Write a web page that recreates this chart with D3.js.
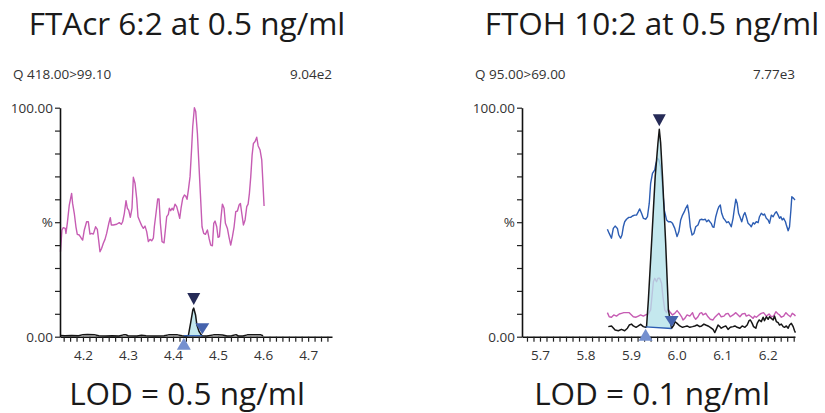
<!DOCTYPE html>
<html><head><meta charset="utf-8">
<script src="https://cdn.jsdelivr.net/npm/d3@7"></script>
<style>body{margin:0;background:#fff}svg{display:block}text{font-family:"Open Sans","Noto Sans",sans-serif}</style>
</head><body>
<script>
// ---------- Panel text ----------
const titles = ["FTAcr 6:2 at 0.5 ng/ml", "FTOH 10:2 at 0.5 ng/ml"];
const lodLabels = ["LOD = 0.5 ng/ml", "LOD = 0.1 ng/ml"];
const channelLabels = ["Q 418.00>99.10", "Q 95.00>69.00"];
const intensityLabels = ["9.04e2", "7.77e3"];
const yTickValues = [0,10,20,30,40,50,60,70,80,90,100];
const yTickLabels = {0:"0.00", 50:"%", 100:"100.00"};
const xTickLabelsA = [4.2,4.3,4.4,4.5,4.6,4.7];
const xTickLabelsB = [5.7,5.8,5.9,6.0,6.1,6.2];
const xDomainA = [4.149, 4.753];
const xDomainB = [5.6605, 6.26];

// ---------- FTAcr 6:2 traces ----------
const ftacrPinkTime = [4.150,4.1533,4.1563,4.1607,4.1622,4.1652,4.1696,4.1748,4.1770,4.1807,4.1844,4.1874,4.1918,4.1963,4.1993,4.2030,4.2081,4.2119,4.2156,4.2193,4.2230,4.2281,4.2319,4.2348,4.2378,4.2415,4.2452,4.2489,4.2526,4.2570,4.2607,4.2630,4.2674,4.2748,4.2807,4.2852,4.2881,4.2919,4.2956,4.2985,4.3015,4.3052,4.3089,4.3119,4.3156,4.3193,4.3222,4.3267,4.3304,4.3341,4.3378,4.3415,4.3452,4.3489,4.3526,4.3563,4.3585,4.3622,4.3659,4.3689,4.3719,4.3756,4.3800,4.3837,4.3859,4.3896,4.3919,4.3948,4.3978,4.4007,4.4044,4.4081,4.4111,4.4148,4.4178,4.4215,4.4252,4.4281,4.4311,4.4341,4.4378,4.4415,4.4437,4.4474,4.4504,4.4541,4.4570,4.4607,4.4644,4.4681,4.4719,4.4763,4.4800,4.4837,4.4874,4.4904,4.4933,4.4970,4.5000,4.5030,4.5067,4.5096,4.5133,4.5163,4.5207,4.5244,4.5281,4.5319,4.5356,4.5393,4.5430,4.5467,4.5496,4.5526,4.5563,4.5600,4.5637,4.5667,4.5696,4.5726,4.5756,4.5785,4.5822,4.5859,4.5889,4.5933,4.5970,4.5993,4.6022];
const ftacrPinkPct = [37.1,46.6,47.6,47.3,45.1,49.5,57.5,62.6,58.2,53.9,48.0,44.7,44.4,43.0,42.2,46.6,50.2,50.2,44.8,45.1,44.8,48.0,46.9,42.2,37.1,38.6,40.8,42.5,45.1,49.2,52.0,48.8,48.8,49.1,49.8,49.1,50.2,53.9,59.4,56.1,55.3,52.1,56.1,69.6,67.0,60.4,52.4,50.2,48.5,47.3,48.3,45.9,41.5,42.5,41.9,43.0,48.0,53.9,60.1,60.1,49.5,41.5,41.0,48.0,52.4,53.4,56.1,55.0,56.1,55.3,57.9,56.8,54.6,51.7,56.1,60.4,61.9,61.4,60.0,64.1,69.9,83.0,91.7,100.0,98.3,88.8,77.2,62.6,48.0,45.1,44.7,46.6,43.0,40.0,39.7,49.5,50.5,48.0,43.4,43.7,52.4,57.9,56.1,49.5,47.3,43.4,40.0,43.7,48.0,54.6,54.9,57.5,58.2,53.9,48.8,51.0,56.8,57.9,62.6,69.9,79.3,84.4,85.2,87.1,83.4,81.5,77.2,68.4,57.1];
const ftacrBlackTime = [4.150,4.160,4.175,4.190,4.200,4.210,4.225,4.235,4.250,4.265,4.280,4.290,4.295,4.300,4.320,4.330,4.340,4.360,4.380,4.390,4.400,4.410,4.420,4.428,4.434,4.439,4.444,4.446,4.450,4.453,4.458,4.464,4.475,4.490,4.500,4.510,4.520,4.530,4.540,4.545,4.555,4.565,4.580,4.595,4.600];
const ftacrBlackPct = [0.5,0.4,0.5,0.4,0.9,1.0,0.9,0.4,0.3,0.4,0.3,0.8,0.9,0.4,0.3,0.6,0.4,0.3,0.4,0.8,0.9,0.8,0.4,0.3,0.5,5.9,11.7,12.5,9.5,5.1,2.2,0.4,0.3,0.8,0.9,0.7,0.3,0.4,0.9,0.3,0.3,0.8,0.9,0.8,0.4];
const ftacrPeakStartEnd = [4.424, 4.465];
const ftacrBaselinePct = [0.4, 0.4];

// ---------- FTOH 10:2 traces ----------
const ftohBlueTime = [5.848,5.852,5.857,5.861,5.865,5.870,5.873,5.877,5.880,5.883,5.886,5.890,5.895,5.899,5.903,5.908,5.912,5.916,5.919,5.923,5.927,5.932,5.936,5.940,5.943,5.947,5.952,5.954,5.958,5.961,5.965,5.969,5.973,5.978,5.982,5.987,5.991,5.996,6.001,6.005,6.009,6.013,6.017,6.020,6.024,6.027,6.030,6.034,6.038,6.042,6.047,6.051,6.055,6.058,6.063,6.066,6.070,6.073,6.076,6.079,6.082,6.086,6.090,6.093,6.096,6.099,6.103,6.106,6.110,6.114,6.117,6.120,6.124,6.127,6.130,6.133,6.136,6.139,6.143,6.147,6.150,6.153,6.157,6.161,6.164,6.168,6.171,6.175,6.179,6.182,6.186,6.190,6.193,6.197,6.201,6.204,6.208,6.212,6.216,6.219,6.223,6.226,6.229,6.232,6.235,6.239,6.241,6.245,6.248,6.251,6.253,6.257,6.260];
const ftohBluePct = [46.9,45.1,43.0,47.3,48.3,47.3,44.4,43.0,44.4,48.0,50.2,51.3,52.1,52.1,52.7,53.1,53.1,54.6,55.8,53.9,51.7,51.3,52.4,58.3,67.0,71.3,72.8,75.0,77.9,77.2,74.2,65.5,55.3,51.0,50.2,50.2,49.5,47.3,43.7,45.9,51.0,53.1,54.6,56.1,57.5,53.9,48.0,44.4,45.1,48.0,48.8,51.0,51.3,51.0,51.3,50.2,51.0,50.2,49.5,48.0,47.8,52.4,55.3,56.8,57.5,53.9,51.7,51.0,49.8,50.2,49.2,48.0,51.7,56.1,60.0,58.3,53.9,52.4,50.2,53.1,54.2,52.4,49.5,48.8,48.0,49.8,49.2,50.2,49.8,52.4,53.9,53.1,53.6,51.7,51.0,49.5,53.1,52.4,53.9,54.6,53.1,51.7,52.4,51.0,51.7,50.2,48.8,46.3,48.0,55.3,61.1,60.4,59.7];
const ftohPinkTime = [5.848,5.852,5.857,5.862,5.868,5.874,5.879,5.884,5.890,5.896,5.901,5.905,5.911,5.916,5.921,5.927,5.932,5.938,5.943,5.949,5.952,5.956,5.959,5.963,5.967,5.970,5.974,5.978,5.981,5.985,5.991,5.996,6.001,6.006,6.011,6.014,6.018,6.023,6.029,6.035,6.038,6.042,6.047,6.051,6.055,6.058,6.064,6.069,6.074,6.080,6.084,6.089,6.093,6.098,6.104,6.108,6.113,6.118,6.124,6.130,6.135,6.139,6.144,6.150,6.153,6.159,6.164,6.168,6.171,6.175,6.181,6.186,6.191,6.197,6.203,6.208,6.213,6.218,6.223,6.226,6.230,6.235,6.240,6.245,6.250,6.254,6.259,6.261];
const ftohPinkPct = [10.5,8.7,8.5,9.5,9.0,9.9,10.2,10.5,10.5,10.5,9.5,8.7,8.5,9.0,9.5,9.0,9.5,10.0,11.7,24.0,25.5,24.0,25.5,25.5,23.3,17.5,11.7,10.5,12.0,10.9,9.5,10.2,11.4,10.2,8.7,7.3,8.0,9.5,9.0,10.5,8.7,7.6,8.7,10.2,10.5,9.5,10.2,8.7,7.6,7.3,8.5,9.5,10.2,8.7,9.0,9.9,10.2,8.7,9.5,10.5,9.5,8.7,9.9,10.2,9.0,9.5,8.7,8.0,9.0,8.5,9.5,10.2,10.5,9.0,9.9,8.7,9.0,10.9,9.9,9.5,8.5,9.0,10.5,9.5,8.7,10.2,9.5,9.0];
const ftohBlackTime = [5.850,5.857,5.865,5.872,5.879,5.886,5.892,5.896,5.901,5.905,5.911,5.916,5.921,5.927,5.932,5.934,5.938,5.945,5.953,5.959,5.962,5.965,5.969,5.976,5.982,5.989,5.994,5.996,6.001,6.007,6.013,6.018,6.023,6.029,6.035,6.040,6.045,6.051,6.055,6.060,6.064,6.069,6.074,6.080,6.084,6.087,6.091,6.095,6.098,6.104,6.108,6.113,6.118,6.124,6.128,6.133,6.139,6.144,6.150,6.155,6.159,6.162,6.166,6.169,6.174,6.177,6.181,6.186,6.190,6.193,6.197,6.201,6.204,6.208,6.212,6.215,6.219,6.223,6.226,6.230,6.234,6.237,6.241,6.245,6.248,6.252,6.256,6.259,6.261];
const ftohBlackPct = [4.4,4.7,2.9,2.6,3.2,2.6,3.7,5.1,5.5,4.7,4.1,4.7,5.4,4.4,4.1,4.4,16.0,40.8,69.9,84.5,90.6,84.5,69.9,40.8,11.7,3.7,5.1,6.6,5.8,4.7,4.1,4.4,4.7,4.1,4.4,4.7,5.1,4.4,4.7,5.5,5.1,4.7,4.1,3.2,1.8,3.2,5.1,4.4,3.7,4.4,4.7,3.2,4.1,4.4,4.7,4.1,3.7,4.7,4.1,5.1,7.0,7.3,5.8,4.4,3.7,5.8,7.3,6.6,8.5,7.0,8.7,7.6,8.7,8.0,7.3,9.0,6.6,6.1,5.1,5.5,4.4,4.1,4.7,3.7,5.1,5.8,4.4,2.6,1.8];
const ftohPeakStartEnd = [5.932, 5.989];
const ftohBaselinePct = [4.3, 3.6];

// ---------- Styles ----------
const PINK = "#c65cb3", BLUE = "#2c5db3", BLACK = "#161616";
const FILL = "#b4e1e9";
const TOP_MARK = "#262b57", END_MARK = "#4563ad", START_MARK = "#7590cf";
const FONT = '"Open Sans","Noto Sans",sans-serif';

const panels = [
  { left: 60, right: 332, cx: 187, domain: xDomainA, labels: xTickLabelsA,
    traces: [[ftacrPinkTime, ftacrPinkPct, PINK]],
    quant: [ftacrBlackTime, ftacrBlackPct], se: ftacrPeakStartEnd, base: ftacrBaselinePct,
    title: titles[0], lod: lodLabels[0], chan: channelLabels[0], inten: intensityLabels[0] },
  { left: 522, right: 795, cx: 652, domain: xDomainB, labels: xTickLabelsB,
    traces: [[ftohPinkTime, ftohPinkPct, PINK], [ftohBlueTime, ftohBluePct, BLUE]],
    quant: [ftohBlackTime, ftohBlackPct], se: ftohPeakStartEnd, base: ftohBaselinePct,
    title: titles[1], lod: lodLabels[1], chan: channelLabels[1], inten: intensityLabels[1] }
];

const svg = d3.select("body").append("svg").attr("width", 825).attr("height", 413);
const y = d3.scaleLinear().domain([0, 100]).range([336.7, 107.7]);

panels.forEach(p => {
  const x = d3.scaleLinear().domain(p.domain).range([p.left, p.right]);
  const g = svg.append("g");
  g.append("text").attr("x", p.cx).attr("y", 35).attr("text-anchor", "middle")
    .style("font-size", "31.5px").attr("fill", "#1a1a1a").text(p.title);
  g.append("text").attr("x", p.cx).attr("y", 405).attr("text-anchor", "middle")
    .style("font-size", "31.5px").attr("fill", "#1a1a1a").text(p.lod);
  g.append("text").attr("x", p.left - 47).attr("y", 79).style("font-size", "13.5px")
    .attr("fill", "#333").text(p.chan);
  g.append("text").attr("x", p.right).attr("y", 79).attr("text-anchor", "end").style("font-size", "13.5px")
    .attr("fill", "#333").text(p.inten);

  const line = d3.line().x(d => x(d[0])).y(d => y(d[1]));
  p.traces.forEach(t => {
    g.append("path").datum(d3.zip(t[0], t[1])).attr("d", line)
      .attr("fill", "none").attr("stroke", t[2]).attr("stroke-width", 1.4).attr("stroke-linejoin", "round");
  });

  const q = d3.zip(p.quant[0], p.quant[1]);
  const [s, e] = p.se;
  const baseAt = d3.scaleLinear().domain([s, e]).range(p.base);
  const peakPts = [[s, p.base[0]], ...q.filter(d => d[0] > s && d[0] < e), [e, p.base[1]]];
  const area = d3.area().x(d => x(d[0])).y0(d => y(baseAt(d[0]))).y1(d => y(Math.max(d[1], baseAt(d[0]))));
  g.append("path").datum(peakPts).attr("d", area).attr("fill", FILL).attr("fill-opacity", 0.78);

  g.append("path").datum(q).attr("d", line).attr("fill", "none").attr("stroke", BLACK)
    .attr("stroke-width", 1.5).attr("stroke-linejoin", "round");

  g.append("line").attr("x1", x(s)).attr("x2", x(e)).attr("y1", y(p.base[0])).attr("y2", y(p.base[1]))
    .attr("stroke", BLUE).attr("stroke-width", 1.4);

  // axes
  const yAx = d3.axisLeft(y).tickValues(yTickValues).tickSize(5).tickPadding(2).tickSizeOuter(0)
    .tickFormat(d => yTickLabels[d] || "");
  const ya = g.append("g").attr("transform", `translate(${p.left},0)`).call(yAx);
  const step = 0.1 / 7;
  const k0 = Math.ceil((p.domain[0] - p.labels[0]) / step - 1e-6), k1 = Math.floor((p.domain[1] - p.labels[0]) / step + 1e-6);
  const minor = d3.range(k0, k1 + 1).map(k => p.labels[0] + k * step);
  const xMinor = d3.axisBottom(x).tickValues(minor).tickSize(5).tickSizeOuter(0).tickFormat("");
  const xa = g.append("g").attr("transform", "translate(0,336.7)").call(xMinor);
  const xMajor = d3.axisBottom(x).tickValues(p.labels).tickSize(0).tickPadding(14).tickFormat(d3.format(".1f"));
  const xb = g.append("g").attr("transform", "translate(0,336.7)").call(xMajor);
  xb.select(".domain").remove();
  [ya, xa, xb].forEach(a => {
    a.attr("font-size", null).attr("font-family", null);
    a.selectAll("path.domain").attr("stroke", "#111").attr("stroke-width", 1.6);
    a.selectAll(".tick line").attr("stroke", "#222").attr("stroke-width", 1.2);
    a.selectAll("text").style("font-size", "13.5px").attr("fill", "#333").style("font-family", FONT);
  });

  // markers
  const tri = (cx, ay, dir, w, h) => `M${cx - w / 2},${ay - dir * h}L${cx + w / 2},${ay - dir * h}L${cx},${ay}Z`;
  const peak = peakPts.reduce((a, b) => (b[1] > a[1] ? b : a));
  g.append("path").attr("d", tri(x(peak[0]), y(peak[1]) - 3, 1, 13, 12)).attr("fill", TOP_MARK);
  g.append("path").attr("d", tri(x(e), y(p.base[1]) - 1.5, 1, 14, 11)).attr("fill", END_MARK);
  g.append("path").attr("d", tri(x(s), y(p.base[0]) + 2, -1, 14, 12)).attr("fill", START_MARK);
});
</script>
</body></html>
